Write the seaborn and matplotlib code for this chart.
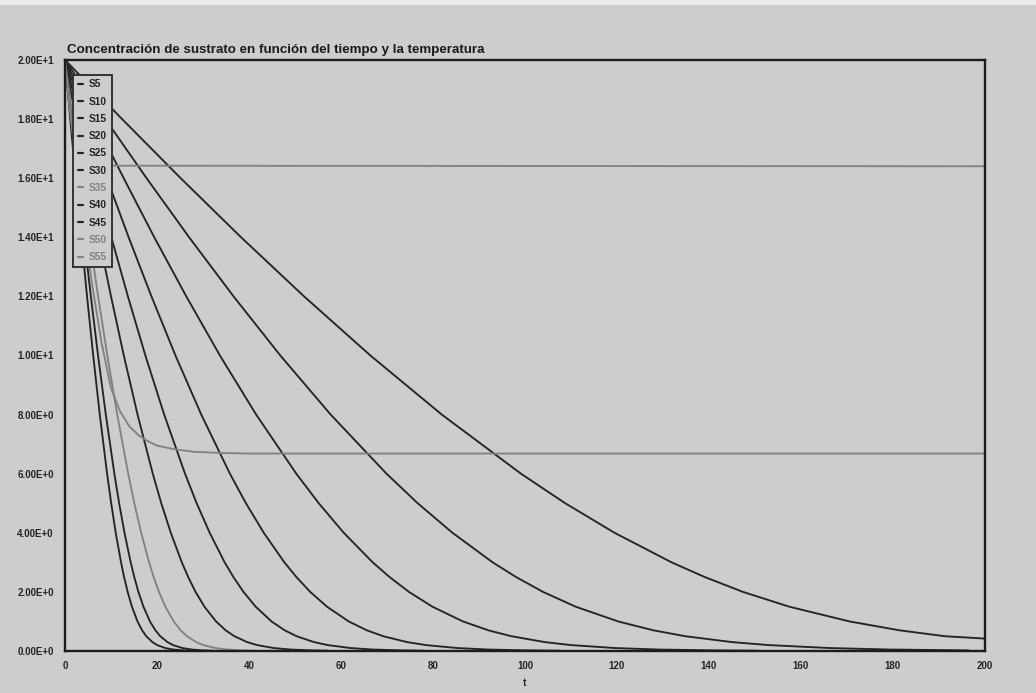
import math
import matplotlib
matplotlib.use("Agg")
import matplotlib.pyplot as plt
from matplotlib import font_manager
from matplotlib.patches import Rectangle
from matplotlib.ticker import FixedLocator, FuncFormatter
import pandas as pd
import seaborn as sns

# Substrate levels (shared by the decaying curves) and the time each series reaches them
LEVELS = [20, 18, 16, 14, 12, 10, 8, 6, 5, 4, 3, 2.5, 2, 1.5, 1.0, 0.7, 0.5, 0.3, 0.2, 0.1, 0.05, 0.02, 0.01]

t_s45 = [0, 1.15, 2.32, 3.54, 4.80, 6.14, 7.57, 9.16, 10.05, 11.04, 12.19, 12.86, 13.63, 14.56, 15.77,
         16.77, 17.68, 19.02, 20.06, 21.80, 23.51, 25.76, 27.47]
t_s40 = [0, 1.34, 2.72, 4.15, 5.63, 7.19, 8.88, 10.74, 11.78, 12.94, 14.29, 15.07, 15.97, 17.06, 18.48,
         19.66, 20.72, 22.29, 23.51, 25.54, 27.55, 30.19, 32.19]
t_s35 = [0, 1.72, 3.49, 5.31, 7.21, 9.21, 11.36, 13.75, 15.08, 16.57, 18.29, 19.29, 20.44, 21.83, 23.65,
         25.16, 26.53, 28.53, 30.09, 32.69, 35.27, 38.65, 41.2]
t_s30 = [0, 2.39, 4.84, 7.37, 10.01, 12.79, 15.78, 19.09, 20.94, 23.01, 25.40, 26.80, 28.39, 30.32, 32.85,
         34.94, 36.84, 39.63, 41.79, 45.41, 48.98, 53.68, 57.2]
t_s25 = [0, 3.27, 6.62, 10.08, 13.68, 17.48, 21.57, 26.10, 28.63, 31.46, 34.72, 36.63, 38.81, 41.46, 44.91,
         47.77, 50.37, 54.18, 57.13, 62.08, 66.96, 73.38, 78.2]
t_s20 = [0, 4.49, 9.10, 13.84, 18.80, 24.02, 29.63, 35.86, 39.34, 43.22, 47.70, 50.33, 53.32, 56.96, 61.70,
         65.63, 69.20, 74.43, 78.49, 85.29, 92.0, 100.8, 107.5]
t_s15 = [0, 6.29, 12.76, 19.41, 26.37, 33.68, 41.56, 50.29, 55.17, 60.61, 66.90, 70.59, 74.78, 79.88, 86.54,
         92.05, 97.05, 104.39, 110.07, 119.61, 129.02, 141.39, 150.7]
t_s10 = [0, 8.75, 17.73, 26.98, 36.64, 46.81, 57.76, 69.90, 76.68, 84.24, 92.98, 98.10, 103.93, 111.02,
         120.27, 127.93, 134.88, 145.08, 152.98, 166.24, 179.32, 196.51]
t_s5 = [0, 12.40, 25.14, 38.27, 51.97, 66.39, 81.92, 99.13, 108.75, 119.47, 131.88, 139.13, 147.40, 157.45,
        170.58, 181.44, 191.30]
S5_END_T, S5_END_S = 200, 0.42

# Series that stop consuming substrate (enzyme inactivated)
t_s50 = [0, 2, 4, 6, 8, 10, 12, 14, 16, 18, 20, 24, 28, 34, 40, 60, 200]
s_s50 = [20, 17.0, 14.5, 12.3, 10.4, 8.9, 8.1, 7.6, 7.3, 7.1, 6.95, 6.82, 6.74, 6.7, 6.68, 6.68, 6.68]
t_s55 = [0, 1, 2, 3, 4, 6, 200]
s_s55 = [20, 18.4, 17.3, 16.8, 16.55, 16.42, 16.4]

SERIES = ["S5", "S10", "S15", "S20", "S25", "S30", "S35", "S40", "S45", "S50", "S55"]
GREY_SERIES = ["S35", "S50", "S55"]

X_TICKS = [0, 20, 40, 60, 80, 100, 120, 140, 160, 180, 200]
Y_TICKS = [0, 2, 4, 6, 8, 10, 12, 14, 16, 18, 20]

TITLE = "Concentración de sustrato en función del tiempo y la temperatura"

# ---- long-form table -------------------------------------------------------
rows = []
decaying = {"S5": t_s5, "S10": t_s10, "S15": t_s15, "S20": t_s20, "S25": t_s25,
            "S30": t_s30, "S35": t_s35, "S40": t_s40, "S45": t_s45}
for name, times in decaying.items():
    for t, s in zip(times, LEVELS):
        rows.append((name, t, s))
rows.append(("S5", S5_END_T, S5_END_S))
for t, s in zip(t_s50, s_s50):
    rows.append(("S50", t, s))
for t, s in zip(t_s55, s_s55):
    rows.append(("S55", t, s))
df = pd.DataFrame(rows, columns=["serie", "t", "S"])

# ---- style -----------------------------------------------------------------
sns.set_style("white")
names = {f.name for f in font_manager.fontManager.ttflist}
narrow = "Liberation Sans Narrow" if "Liberation Sans Narrow" in names else "Liberation Sans"
plt.rcParams["font.family"] = [narrow, "DejaVu Sans"]

BG = "#cdcdcd"
DARK = "#242424"
GREY = "#828282"
palette = {s: (GREY if s in GREY_SERIES else DARK) for s in SERIES}

fig = plt.figure(figsize=(10.36, 6.93), dpi=100, facecolor=BG)
# light strip along the upper edge of the page
fig.patches.append(Rectangle((0, 1 - 5 / 693), 1, 5 / 693, transform=fig.transFigure,
                             facecolor="#ececec", edgecolor="none", zorder=0))
ax = fig.add_axes([0.0627, 0.0606, 0.888, 0.853])
ax.set_facecolor(BG)

sns.lineplot(data=df, x="t", y="S", hue="serie", hue_order=SERIES, palette=palette,
             estimator=None, sort=False, linewidth=1.35, ax=ax)

ax.set_xlim(0, 200)
ax.set_ylim(0, 20)
ax.xaxis.set_major_locator(FixedLocator(X_TICKS))
ax.yaxis.set_major_locator(FixedLocator(Y_TICKS))


def sci_label(v, _pos):
    if v == 0:
        return "0.00E+0"
    e = int(math.floor(math.log10(abs(v))))
    return f"{v / 10 ** e:.2f}E+{e}"


ax.yaxis.set_major_formatter(FuncFormatter(sci_label))
ax.xaxis.set_major_formatter(FuncFormatter(lambda v, p: f"{int(v)}"))

for lab in ax.get_yticklabels() + ax.get_xticklabels():
    lab.set_fontweight("bold")
ax.tick_params(axis="both", which="major", labelsize=7, colors=DARK, direction="in",
               length=3, width=1, pad=7)
ax.tick_params(axis="y", direction="inout", length=4, pad=6)

for sp in ax.spines.values():
    sp.set_visible(True)
    sp.set_color("#1c1c1c")
    sp.set_linewidth(1.7)

ax.set_xlabel("t", fontsize=7.5, fontweight="bold", color=DARK, labelpad=5)
ax.set_ylabel("")
ax.set_title(TITLE, loc="left", fontsize=9.6, fontweight="bold", color="#1a1a1a", pad=5, x=0.002)

leg = ax.legend(loc="upper left", bbox_to_anchor=(0.009, 0.975), fontsize=7.3, frameon=True,
                fancybox=False, facecolor=BG, edgecolor="#333333", framealpha=1.0,
                handlelength=0.55, handletextpad=0.55, labelspacing=0.72, borderpad=0.45,
                borderaxespad=0.0, title=None)
leg.get_frame().set_linewidth(1.4)
for txt, line in zip(leg.get_texts(), leg.get_lines()):
    name = txt.get_text()
    txt.set_fontweight("bold")
    txt.set_color(palette[name])
    line.set_linewidth(1.6)

fig.savefig("out.png", dpi=100, facecolor=BG)
